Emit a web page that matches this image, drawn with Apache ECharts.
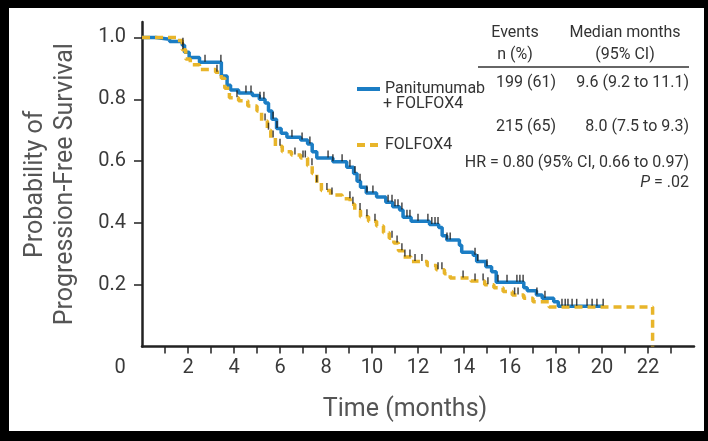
<!DOCTYPE html>
<html lang="en">
<head>
<meta charset="UTF-8">
<title>Progression-Free Survival</title>
<script src="https://cdn.jsdelivr.net/npm/echarts@6/dist/echarts.min.js"></script>
<style>
html, body { margin: 0; padding: 0; background: #000; }
#chart { position: absolute; left: 9px; top: 8px; width: 695px; height: 423px; background: #fff; }
</style>
</head>
<body>
<div id="chart"></div>
<script>
// Panitumumab + FOLFOX4 (step points: time in months, survival)
const paniTime = [0, 0.6, 1.2, 1.75, 1.85, 2.05, 2.5, 3.45, 3.7, 3.85, 4.2, 4.8, 5.1, 5.35, 5.5, 5.65, 5.85, 6.05, 6.3, 6.9, 7.2, 7.4, 7.6, 8.3, 8.9, 9.2, 9.35, 9.5, 9.75, 10.2, 10.6, 10.9, 11.2, 11.35, 11.7, 12.5, 12.9, 13.05, 13.25, 13.8, 13.9, 14.4, 14.55, 14.95, 15.2, 15.4, 16.6, 16.75, 17.15, 17.4, 17.9, 18.1, 20.05];
const paniSurv = [1.0, 0.994, 0.987, 0.975, 0.952, 0.935, 0.92, 0.875, 0.845, 0.83, 0.82, 0.812, 0.80, 0.788, 0.762, 0.735, 0.705, 0.69, 0.677, 0.668, 0.655, 0.63, 0.61, 0.598, 0.58, 0.56, 0.535, 0.515, 0.497, 0.484, 0.467, 0.452, 0.442, 0.418, 0.405, 0.395, 0.385, 0.358, 0.345, 0.328, 0.305, 0.295, 0.275, 0.258, 0.242, 0.208, 0.19, 0.18, 0.167, 0.156, 0.145, 0.13, 0.13];
const paniCensor = [1.78, 2.74, 3.43, 4.52, 4.74, 5.13, 5.3, 5.7, 5.87, 6.52, 6.96, 7.3, 8.09, 8.3, 8.7, 9.04, 9.26, 9.48, 9.78, 10.04, 10.7, 10.87, 11.0, 11.13, 11.3, 11.52, 11.65, 12.0, 12.43, 12.6, 12.74, 12.87, 13.26, 13.4, 14.48, 14.6, 15.0, 15.48, 15.87, 16.3, 16.43, 16.57, 17.17, 17.52, 18.26, 18.4, 18.52, 18.7, 18.9, 19.35, 19.57, 19.78, 20.05];

// FOLFOX4 alone
const folfTime = [0, 1.5, 1.75, 1.9, 2.1, 2.5, 3.2, 3.45, 3.6, 3.8, 4.2, 4.6, 5.0, 5.2, 5.45, 5.6, 5.8, 6.1, 6.5, 6.9, 7.2, 7.4, 7.6, 7.8, 8.2, 8.7, 9.05, 9.25, 9.5, 9.85, 10.2, 10.5, 10.75, 10.95, 11.15, 11.35, 11.7, 12.4, 12.8, 13.15, 13.4, 14.3, 14.9, 15.3, 15.7, 16.1, 16.6, 17.0, 17.7, 22.2];
const folfSurv = [1.0, 0.99, 0.96, 0.93, 0.912, 0.896, 0.887, 0.868, 0.836, 0.805, 0.795, 0.778, 0.762, 0.73, 0.70, 0.675, 0.648, 0.63, 0.62, 0.61, 0.585, 0.56, 0.53, 0.505, 0.49, 0.478, 0.46, 0.44, 0.42, 0.405, 0.39, 0.368, 0.35, 0.335, 0.31, 0.29, 0.275, 0.262, 0.248, 0.235, 0.222, 0.212, 0.2, 0.19, 0.178, 0.167, 0.156, 0.145, 0.128, 0];
const folfCensor = [1.78, 3.26, 4.13, 5.35, 5.5, 5.7, 6.0, 6.65, 7.0, 7.1, 7.39, 7.6, 8.04, 8.26, 9.04, 9.17, 9.48, 9.78, 10.13, 10.87, 11.09, 11.3, 11.43, 11.65, 11.87, 12.17, 12.87, 13.04, 13.96, 14.48, 14.83, 15.04, 16.2, 16.35];

const monthTicks = [1, 2, 3, 4, 5, 6, 7, 8, 9, 10, 11, 12, 13, 14, 15, 16, 17, 18, 19, 20, 21, 22, 23];
const monthLabels = [0, 2, 4, 6, 8, 10, 12, 14, 16, 18, 20, 22];
const survTicks = [0.2, 0.4, 0.6, 0.8, 1.0];

const paniName = 'Panitumumab + FOLFOX4';
const folfName = 'FOLFOX4';
const blue = '#1b7dc4';
const gold = '#e8b52a';
const font = 'Roboto';

function pairs(t, s) {
  return t.map((v, i) => [v, s[i]]);
}
// survival value at time t
function survAt(times, surv, t) {
  let v = surv[0];
  for (let i = 0; i < times.length; i++) {
    if (times[i] <= t) v = surv[i];
  }
  return v;
}
function censorPoints(c, times, surv) {
  return c.map(t => [t, survAt(times, surv, t)]);
}

const chart = echarts.init(document.getElementById('chart'));
const txt = (text, x, y, align) => ({
  type: 'text',
  style: { text: text, x: x, y: y, fill: '#333', font: '16px ' + font, align: align, verticalAlign: 'middle' }
});

chart.setOption({
  animation: false,
  grid: { left: 133, right: 10, top: 14, bottom: 84.5, outerBoundsMode: 'none' },
  legend: {
    data: [paniName, folfName],
    orient: 'vertical',
    left: 341,
    top: 68,
    itemWidth: 23,
    itemHeight: 4,
    itemGap: 40,
    selectedMode: false,
    itemStyle: { color: 'rgba(0,0,0,0)', borderWidth: 0 },
    lineStyle: { width: 4 },
    formatter: name => name === paniName ? 'Panitumumab' : name,
    textStyle: { fontFamily: font, fontSize: 16, color: '#333' }
  },
  xAxis: {
    type: 'value',
    min: 0,
    max: 24,
    name: 'Time (months)',
    nameLocation: 'middle',
    nameGap: 51,
    nameTextStyle: { fontFamily: font, fontSize: 25, color: '#555', padding: [0, 26, 0, 0] },
    splitLine: { show: false },
    axisLine: { show: true, onZero: false, lineStyle: { color: '#222', width: 2.5 } },
    axisTick: { show: true, customValues: monthTicks, length: 7, lineStyle: { color: '#222', width: 1.5 } },
    axisLabel: {
      customValues: monthLabels,
      margin: 11,
      fontFamily: font,
      fontSize: 20,
      color: '#3a3a3a',
      formatter: v => v === 0 ? '{o|0}' : String(v),
      rich: { o: { fontFamily: font, fontSize: 20, color: '#3a3a3a', padding: [0, 44, 0, 0] } }
    }
  },
  yAxis: {
    type: 'value',
    min: 0,
    max: 1.05,
    name: 'Probability of\nProgression-Free Survival',
    nameLocation: 'middle',
    nameRotate: 90,
    nameGap: 61,
    nameTextStyle: { fontFamily: font, fontSize: 25, color: '#555', lineHeight: 30 },
    splitLine: { show: false },
    axisLine: { show: true, onZero: false, lineStyle: { color: '#222', width: 2.5 } },
    axisTick: { show: true, customValues: survTicks, length: 8, lineStyle: { color: '#222', width: 1.5 } },
    axisLabel: {
      customValues: survTicks,
      margin: 16,
      fontFamily: font,
      fontSize: 20,
      color: '#3a3a3a',
      formatter: v => v.toFixed(1)
    }
  },
  series: [
    {
      name: paniName,
      type: 'line',
      step: 'end',
      symbol: 'none',
      data: pairs(paniTime, paniSurv),
      lineStyle: { color: blue, width: 3.5 },
      itemStyle: { color: blue },
      z: 2
    },
    {
      name: folfName,
      type: 'line',
      step: 'end',
      symbol: 'none',
      data: pairs(folfTime, folfSurv),
      lineStyle: { color: gold, width: 3.5, type: [8, 5] },
      itemStyle: { color: gold },
      z: 3
    },
    {
      name: 'censored (panitumumab)',
      type: 'scatter',
      symbol: 'rect',
      symbolSize: [1.5, 7],
      symbolOffset: [0, -4],
      itemStyle: { color: '#1a1a1a' },
      silent: true,
      data: censorPoints(paniCensor, paniTime, paniSurv),
      z: 4
    },
    {
      name: 'censored (FOLFOX4)',
      type: 'scatter',
      symbol: 'rect',
      symbolSize: [1.5, 7],
      symbolOffset: [0, -4],
      itemStyle: { color: '#1a1a1a' },
      silent: true,
      data: censorPoints(folfCensor, folfTime, folfSurv),
      z: 4
    }
  ],
  graphic: [
    txt('Events', 506, 25, 'center'),
    txt('n (%)', 506, 47, 'center'),
    txt('Median months', 616, 25, 'center'),
    txt('(95% CI)', 616, 47, 'center'),
    { type: 'line', shape: { x1: 469, y1: 59, x2: 680, y2: 59 }, style: { stroke: '#333', lineWidth: 1.5 } },
    txt('+ FOLFOX4', 374, 96, 'left'),
    txt('199 (61)', 517, 75, 'center'),
    txt('215 (65)', 517, 119, 'center'),
    txt('9.6 (9.2 to 11.1)', 680, 75, 'right'),
    txt('8.0 (7.5 to 9.3)', 680, 119, 'right'),
    txt('HR = 0.80 (95% CI, 0.66 to 0.97)', 680, 155, 'right'),
    {
      type: 'text',
      style: {
        text: '{i|P} = .02', x: 680, y: 175, fill: '#333', font: '16px ' + font,
        align: 'right', verticalAlign: 'middle',
        rich: { i: { fontStyle: 'italic', fontFamily: font, fontSize: 16, fill: '#333' } }
      }
    }
  ]
});
</script>
</body>
</html>
